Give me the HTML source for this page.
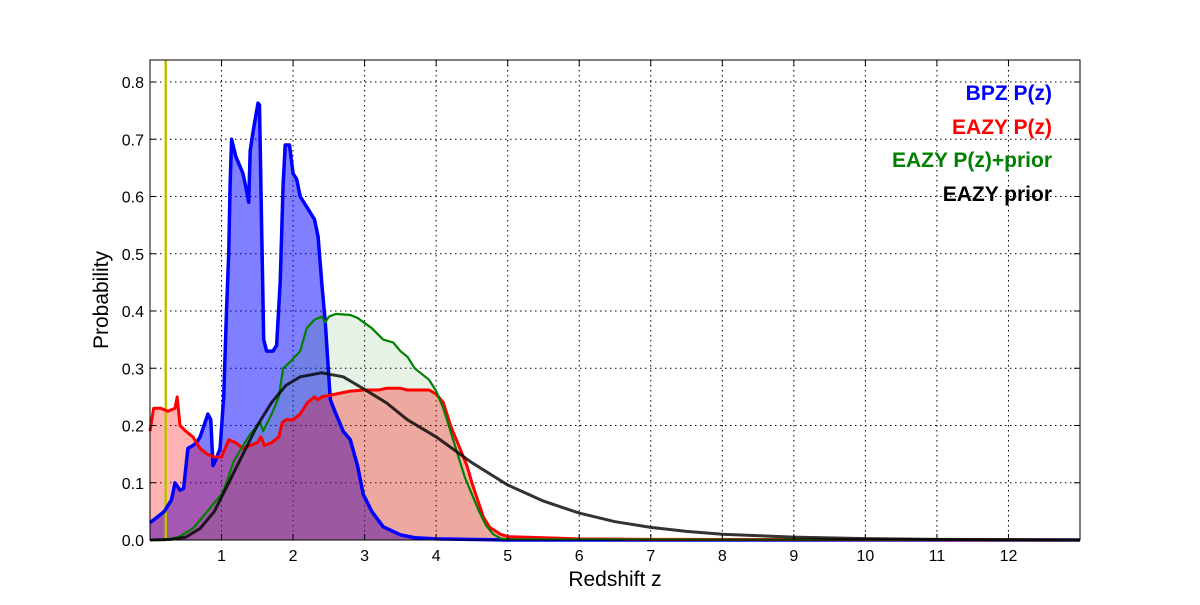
<!DOCTYPE html>
<html><head><meta charset="utf-8"><style>
body{margin:0;background:#fff;}
svg text{font-family:"Liberation Sans","DejaVu Sans",sans-serif;}
</style></head><body>
<svg id="chart" width="1200" height="600" xmlns="http://www.w3.org/2000/svg">
<rect width="1200" height="600" fill="#fff"/>
<g id="grid"></g>
<g id="fills"></g>
<g id="lines"></g>
<rect x="150" y="60" width="930" height="480" fill="none" stroke="#000" stroke-width="1"/>
<g id="ticks"></g>
<text x="615" y="586" font-size="21" text-anchor="middle">Redshift z</text>
<text x="108" y="300" font-size="21" text-anchor="middle" transform="rotate(-90 108 300)">Probability</text>
<g font-size="21" font-weight="bold" text-anchor="end">
<text x="1052" y="100" fill="#0000ff">BPZ P(z)</text>
<text x="1052" y="134" fill="#ff0000">EAZY P(z)</text>
<text x="1052" y="167" fill="#008000">EAZY P(z)+prior</text>
<text x="1052" y="201" fill="#000">EAZY prior</text>
</g>
</svg>
<script>
const xTicks=[1,2,3,4,5,6,7,8,9,10,11,12];
const yTicks=[0.0,0.1,0.2,0.3,0.4,0.5,0.6,0.7,0.8];
const bpzZ=[0,0.1,0.2,0.3,0.35,0.42,0.47,0.53,0.6,0.65,0.7,0.81,0.85,0.88,0.92,0.98,1.03,1.07,1.1,1.12,1.14,1.2,1.3,1.35,1.38,1.4,1.45,1.51,1.53,1.56,1.59,1.63,1.72,1.77,1.82,1.86,1.89,1.95,2.0,2.05,2.1,2.2,2.3,2.35,2.4,2.45,2.52,2.6,2.7,2.8,2.9,2.98,3.1,3.26,3.5,3.7,4.0,5.0,13];
const bpzP=[0.03,0.04,0.05,0.07,0.10,0.087,0.09,0.16,0.165,0.17,0.18,0.22,0.21,0.13,0.14,0.16,0.25,0.40,0.5,0.62,0.70,0.67,0.64,0.61,0.59,0.68,0.72,0.763,0.76,0.55,0.35,0.33,0.33,0.34,0.45,0.62,0.69,0.69,0.64,0.63,0.60,0.58,0.56,0.53,0.45,0.38,0.245,0.22,0.19,0.175,0.13,0.08,0.05,0.023,0.009,0.004,0.002,0,0];
const eazyZ=[0,0.05,0.15,0.25,0.35,0.38,0.42,0.5,0.6,0.7,0.8,0.9,1.0,1.05,1.1,1.2,1.3,1.4,1.5,1.55,1.6,1.7,1.8,1.85,1.9,2.0,2.1,2.2,2.3,2.35,2.4,2.6,2.8,3.0,3.2,3.3,3.5,3.6,3.9,4.0,4.1,4.2,4.3,4.43,4.5,4.66,4.75,4.9,5.0,5.5,6,7,13];
const eazyP=[0.19,0.23,0.23,0.225,0.23,0.25,0.2,0.19,0.18,0.16,0.15,0.145,0.145,0.16,0.175,0.17,0.16,0.165,0.17,0.18,0.165,0.17,0.18,0.205,0.21,0.21,0.22,0.24,0.25,0.245,0.25,0.255,0.26,0.262,0.262,0.265,0.265,0.262,0.262,0.255,0.24,0.2,0.17,0.13,0.1,0.04,0.022,0.01,0.006,0.004,0.002,0.001,0];
const combZ=[0,0.2,0.4,0.6,0.8,1.0,1.07,1.16,1.3,1.4,1.54,1.58,1.7,1.8,1.86,1.95,2.1,2.19,2.3,2.4,2.45,2.5,2.6,2.8,2.9,3.1,3.26,3.4,3.5,3.6,3.7,3.9,4.0,4.1,4.2,4.3,4.4,4.5,4.6,4.7,4.8,4.9,5.0,13];
const combP=[0,0,0.005,0.02,0.05,0.08,0.10,0.135,0.165,0.185,0.205,0.19,0.22,0.25,0.30,0.31,0.33,0.37,0.385,0.39,0.38,0.39,0.395,0.393,0.388,0.37,0.35,0.345,0.33,0.32,0.3,0.28,0.26,0.23,0.19,0.15,0.11,0.08,0.05,0.025,0.01,0.003,0.001,0];
const priorZ=[0,0.3,0.5,0.7,0.9,1.1,1.3,1.5,1.7,1.9,2.1,2.4,2.7,3.0,3.3,3.6,4.0,4.5,5.0,5.5,6.0,6.5,7.0,7.5,8.0,9,10,11,12,13];
const priorP=[0,0.001,0.005,0.02,0.05,0.1,0.15,0.2,0.24,0.27,0.285,0.292,0.285,0.263,0.24,0.21,0.18,0.135,0.096,0.068,0.047,0.032,0.022,0.015,0.01,0.005,0.0025,0.001,0.0005,0];
const zMark=0.22;

const X0=150,X1=1080,Y0=540,Y1=60,ZMAX=13,PMAX=480/572.5;
const sx=z=>X0+(z/ZMAX)*(X1-X0);
const sy=p=>Y0-(p/PMAX)*(Y0-Y1);
const NS="http://www.w3.org/2000/svg";
function mk(tag,attrs,parent){const e=document.createElementNS(NS,tag);for(const k in attrs)e.setAttribute(k,attrs[k]);parent.appendChild(e);return e;}
const grid=document.getElementById('grid'),ticks=document.getElementById('ticks');
xTicks.forEach(t=>{const x=sx(t);
 const g=mk('line',{x1:x,x2:x,y1:Y1,y2:Y0,stroke:'#000','stroke-width':1,'stroke-dasharray':'1.5,3.5'},grid);
 
 const a=mk('line',{x1:x,x2:x,y1:Y0,y2:Y0-6,stroke:'#000'},ticks);
 const b=mk('line',{x1:x,x2:x,y1:Y1,y2:Y1+6,stroke:'#000'},ticks);
 const l=mk('text',{x:x,y:Y0+21,'font-size':16,'text-anchor':'middle'},ticks);l.textContent=t;
 });
yTicks.forEach(t=>{const y=sy(t);
 if(t>0){const g=mk('line',{x1:X0,x2:X1,y1:y,y2:y,stroke:'#000','stroke-width':1,'stroke-dasharray':'1.5,3.5'},grid);
 }
 const a=mk('line',{x1:X0,x2:X0+6,y1:y,y2:y,stroke:'#000'},ticks);
 const b=mk('line',{x1:X1,x2:X1-6,y1:y,y2:y,stroke:'#000'},ticks);
 const l=mk('text',{x:X0-6,y:y+6,'font-size':16,'text-anchor':'end'},ticks);l.textContent=t.toFixed(1);
 });
function pts(zs,ps){return zs.map((z,i)=>sx(z).toFixed(1)+','+sy(ps[i]).toFixed(1)).join(' ');}
function area(zs,ps){return 'M'+sx(zs[0])+','+Y0+' L'+pts(zs,ps)+' L'+sx(zs[zs.length-1])+','+Y0+' Z';}
const fills=document.getElementById('fills'),lines=document.getElementById('lines');
let f;
f=mk('path',{d:area(bpzZ,bpzP),fill:'#0000ff','fill-opacity':0.5},fills);
f=mk('path',{d:area(combZ,combP),fill:'#008000','fill-opacity':0.1},fills);
f=mk('path',{d:area(eazyZ,eazyP),fill:'#ff0000','fill-opacity':0.3},fills);
const ym=mk('line',{x1:sx(zMark),x2:sx(zMark),y1:Y1,y2:Y0,stroke:'#bfbf00','stroke-width':2.5},lines);

let l;
l=mk('polyline',{points:pts(bpzZ,bpzP),fill:'none',stroke:'#0000ff','stroke-width':3.5,'stroke-linejoin':'round'},lines);
l=mk('polyline',{points:pts(eazyZ,eazyP),fill:'none',stroke:'#ff0000','stroke-width':3,'stroke-linejoin':'round'},lines);
l=mk('polyline',{points:pts(combZ,combP),fill:'none',stroke:'#008000','stroke-width':2.2,'stroke-linejoin':'round'},lines);
l=mk('polyline',{points:pts(priorZ,priorP),fill:'none',stroke:'#000','stroke-opacity':0.8,'stroke-width':3,'stroke-linejoin':'round'},lines);
</script>
</body></html>
